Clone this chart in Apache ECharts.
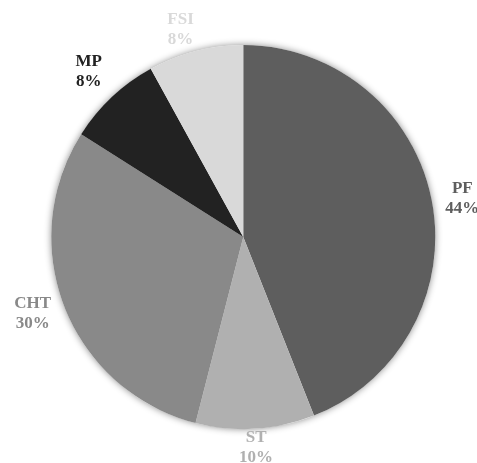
<!DOCTYPE html>
<html>
<head>
<meta charset="utf-8">
<script src="https://cdn.jsdelivr.net/npm/echarts@6/dist/echarts.min.js"></script>
<style>
  html, body { margin: 0; padding: 0; background: #fff; }
  #chart { width: 477px; height: 463px; }
</style>
</head>
<body>
<div id="chart"></div>
<script>
// Share of each group, in percent
const categories = ['PF', 'ST', 'CHT', 'MP', 'FSI'];
const shares = [44, 10, 30, 8, 8];
const colors = ['#5e5e5e', '#b0b0b0', '#898989', '#222222', '#d9d9d9'];

const W = 477, H = 463;
const cx = W * 0.51, cy = H * 0.512;
const pieRadius = 192;
const labelRadius = 220;
// small per-label nudges (px) so the names sit clear of the rim
const labelNudge = [[3, 3], [-1, -9], [-6, -4], [-4, -5], [-8, 6]];

const total = shares.reduce((a, b) => a + b, 0);
// mid angle of each slice, clockwise from 12 o'clock
const midAngles = [];
shares.reduce((acc, v) => {
  midAngles.push((acc + v / 2) / total * 2 * Math.PI);
  return acc + v;
}, 0);

const sliceData = categories.map((name, i) => ({
  name: name,
  value: shares[i],
  itemStyle: { color: colors[i] },
  label: { color: colors[i] }
}));

const chart = echarts.init(document.getElementById('chart'), null, { renderer: 'canvas' });

chart.setOption({
  animation: false,
  backgroundColor: '#ffffff',
  series: [
    {
      // soft shadow behind the whole disc
      type: 'pie',
      silent: true,
      z: 1,
      center: [cx, cy],
      radius: [0, pieRadius],
      label: { show: false },
      labelLine: { show: false },
      data: [{ value: 1, name: '', itemStyle: { color: '#ffffff', shadowBlur: 7, shadowColor: 'rgba(0,0,0,0.45)' } }]
    },
    {
      type: 'pie',
      z: 2,
      center: [cx, cy],
      radius: [0, pieRadius],
      startAngle: 90,
      clockwise: true,
      itemStyle: { borderWidth: 0 },
      labelLine: { show: false },
      label: {
        show: true,
        position: 'inside',
        formatter: p => p.name + '\n' + p.value + '%',
        fontFamily: 'Liberation Serif',
        fontWeight: 'bold',
        fontSize: 17,
        lineHeight: 20,
        overflow: 'none'
      },
      labelLayout: params => {
        const i = params.dataIndex;
        const a = midAngles[i];
        return {
          x: cx + labelRadius * Math.sin(a) + labelNudge[i][0],
          y: cy - labelRadius * Math.cos(a) + labelNudge[i][1],
          align: 'center',
          verticalAlign: 'middle'
        };
      },
      data: sliceData
    }
  ]
});
</script>
</body>
</html>
